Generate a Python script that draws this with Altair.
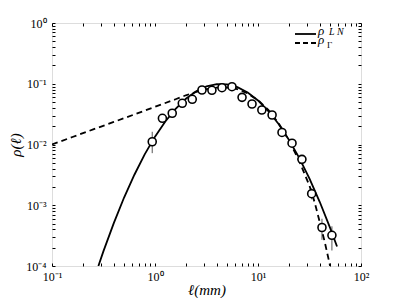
import altair as alt
import pandas as pd

# measured data (circles)
circle_x = [0.94, 1.18, 1.47, 1.84, 2.30, 2.86, 3.57, 4.47, 5.59, 7.0,
            8.75, 10.9, 13.7, 17.1, 21.4, 26.7, 33.2, 41.8, 52.2]
circle_y = [0.0111, 0.027, 0.0327, 0.0477, 0.0555, 0.0789, 0.078, 0.086, 0.0895, 0.0597,
            0.0464, 0.037, 0.0306, 0.0158, 0.0105, 0.0057, 0.00155, 0.00043, 0.00032]

# error bars (only those visible)
err_x = [0.94, 33.2, 41.8, 52.2]
err_lo = [0.0072, 0.00125, 0.00027, 0.00018]
err_hi = [0.0162, 0.0019, 0.00060, 0.00045]

# log-normal fit (solid)
ln_x = [0.282, 0.316, 0.398, 0.501, 0.631, 0.794, 1.0, 1.259, 1.585, 1.995, 2.512,
        3.162, 3.981, 5.012, 6.310, 7.943, 10.0, 12.59, 15.85, 19.95, 25.12, 31.62,
        39.81, 50.12, 58.5]
ln_y = [1.0e-4, 1.76e-4, 5.09e-4, 1.34e-3, 3.18e-3, 6.87e-3, 0.01346, 0.0239, 0.0385,
        0.0565, 0.0750, 0.0902, 0.0986, 0.0977, 0.0879, 0.0716, 0.0531, 0.0356, 0.0217,
        0.0120, 0.00603, 0.00274, 0.00113, 4.25e-4, 2.09e-4]

# gamma fit (dashed)
gam_x = [0.1, 0.158, 0.251, 0.398, 0.631, 1.0, 1.585, 1.995, 2.512, 3.162, 3.981,
         5.012, 6.310, 7.943, 10.0, 12.59, 15.85, 19.95, 25.12, 31.62, 35.48, 39.81,
         44.67, 50.12]
gam_y = [0.0100, 0.0133, 0.0177, 0.0235, 0.0313, 0.0417, 0.0556, 0.0646, 0.0733,
         0.0813, 0.0861, 0.0871, 0.0813, 0.0692, 0.0537, 0.0372, 0.0224, 0.01175,
         0.00537, 0.00209, 0.00112, 5.25e-4, 2.40e-4, 1.0e-4]

x_major_exp = [-1, 0, 1, 2]
x_major_labels = ["10⁻¹", "10⁰", "10¹", "10²"]
y_major_exp = [-4, -3, -2, -1, 0]
y_major_labels = ["10⁻⁴", "10⁻³", "10⁻²", "10⁻¹", "10⁰"]

SERIF = "Liberation Serif"


def ticks_for(exps):
    vals = []
    for e in exps[:-1]:
        for m in range(1, 10):
            vals.append(m * 10.0 ** e)
    vals.append(10.0 ** exps[-1])
    return vals


def label_expr(exps, labels):
    expr = "''"
    for e, l in zip(reversed(exps), reversed(labels)):
        expr = f"abs(log(datum.value)/LN10 - ({e})) < 0.01 ? '{l}' : " + expr
    return expr


x_ticks = ticks_for(x_major_exp)
y_ticks = ticks_for(y_major_exp)

xscale = alt.Scale(type="log", domain=[0.1, 100], nice=False)
yscale = alt.Scale(type="log", domain=[1e-4, 1], nice=False)

x_bottom = alt.Axis(orient="bottom", values=x_ticks, labelExpr=label_expr(x_major_exp, x_major_labels),
                    tickSize=3, offset=-3, domain=False, grid=False, labelPadding=5,
                    labelFont=SERIF, labelFontSize=12, labelColor="black", tickColor="black",
                    labelFlush=False, labelOverlap=False, labelBound=False,
                    title="ℓ(mm)", titleFont=SERIF, titleFontStyle="italic",
                    titleFontWeight="normal", titleFontSize=15, titleColor="black", titlePadding=0)
y_left = alt.Axis(orient="left", values=y_ticks, labelExpr=label_expr(y_major_exp, y_major_labels),
                  tickSize=3, offset=-3, domain=False, grid=False, labelPadding=6,
                  labelFont=SERIF, labelFontSize=12, labelColor="black", tickColor="black",
                  labelFlush=False, labelOverlap=False, labelBound=False,
                  title="ρ(ℓ)", titleFont=SERIF, titleFontStyle="italic",
                  titleFontWeight="normal", titleFontSize=15, titleColor="black", titlePadding=2)
x_top = alt.Axis(orient="top", values=x_ticks, labels=False, tickSize=3, offset=-3,
                 domain=False, grid=False, tickColor="black", title="")
y_right = alt.Axis(orient="right", values=y_ticks, labels=False, tickSize=3, offset=-3,
                   domain=False, grid=False, tickColor="black", title="")

circles_df = pd.DataFrame({"x": circle_x, "y": circle_y})
err_df = pd.DataFrame({"x": err_x, "lo": err_lo, "hi": err_hi})
ln_df = pd.DataFrame({"x": ln_x, "y": ln_y})
gam_df = pd.DataFrame({"x": gam_x, "y": gam_y})

ln_line = alt.Chart(ln_df).mark_line(color="black", strokeWidth=1.8, clip=True).encode(
    x=alt.X("x:Q", scale=xscale, axis=x_bottom),
    y=alt.Y("y:Q", scale=yscale, axis=y_left),
)
gam_line = alt.Chart(gam_df).mark_line(color="black", strokeWidth=1.8, strokeDash=[6, 4], clip=True).encode(
    x=alt.X("x:Q", scale=xscale, axis=None),
    y=alt.Y("y:Q", scale=yscale, axis=None),
)
errs = alt.Chart(err_df).mark_rule(color="#555555", strokeWidth=1, clip=True).encode(
    x=alt.X("x:Q", scale=xscale, axis=None),
    y=alt.Y("lo:Q", scale=yscale, axis=None),
    y2="hi:Q",
)
circles = alt.Chart(circles_df).mark_point(shape="circle", size=64, filled=False, fill="white",
                                            fillOpacity=1, stroke="black", strokeWidth=1.6,
                                            opacity=1).encode(
    x=alt.X("x:Q", scale=xscale, axis=x_top),
    y=alt.Y("y:Q", scale=yscale, axis=y_right),
)

one = pd.DataFrame({"a": [0]})
leg_solid = alt.Chart(one).mark_rule(color="black", strokeWidth=1.8).encode(
    x=alt.value(243), x2=alt.value(264), y=alt.value(11))
leg_dash = alt.Chart(one).mark_rule(color="black", strokeWidth=1.8, strokeDash=[5, 3]).encode(
    x=alt.value(243), x2=alt.value(264), y=alt.value(20))
leg_rho1 = alt.Chart(one).mark_text(font=SERIF, fontStyle="italic", fontSize=13, align="left",
                                    baseline="alphabetic", color="black").encode(
    x=alt.value(266), y=alt.value(12), text=alt.value("ρ"))
leg_sub1 = alt.Chart(one).mark_text(font=SERIF, fontStyle="italic", fontSize=10, align="left",
                                    baseline="alphabetic", color="black").encode(
    x=alt.value(277), y=alt.value(12), text=alt.value("L N"))
leg_rho2 = alt.Chart(one).mark_text(font=SERIF, fontStyle="italic", fontSize=13, align="left",
                                    baseline="alphabetic", color="black").encode(
    x=alt.value(266), y=alt.value(21), text=alt.value("ρ"))
leg_sub2 = alt.Chart(one).mark_text(font=SERIF, fontSize=9, align="left",
                                    baseline="alphabetic", color="black").encode(
    x=alt.value(275), y=alt.value(25), text=alt.value("Γ"))

chart = alt.layer(errs, gam_line, ln_line, circles,
                  leg_solid, leg_dash, leg_rho1, leg_sub1, leg_rho2, leg_sub2).resolve_axis(
    x="independent", y="independent"
).properties(
    width=309, height=243,
    autosize=alt.AutoSizeParams(type="none"),
    padding={"left": 44, "top": 15, "right": 30, "bottom": 32},
).configure_view(stroke="black", strokeWidth=1.2).configure(background="white")

chart.save("out.html", embed_options={"renderer": "svg", "actions": False})
